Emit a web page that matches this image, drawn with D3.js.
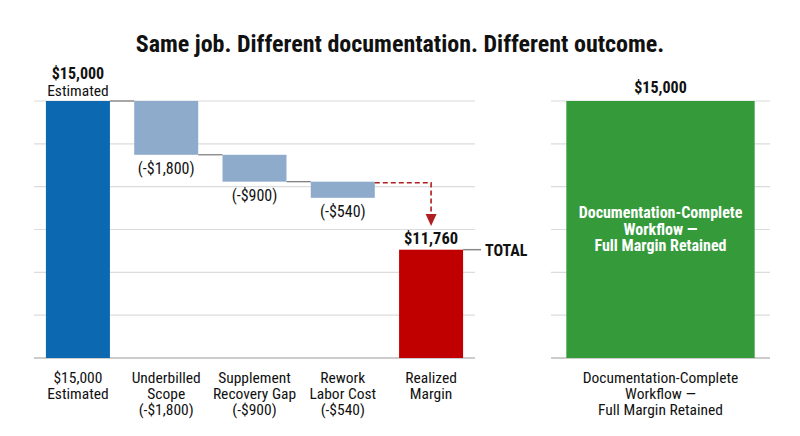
<!DOCTYPE html>
<html>
<head>
<meta charset="utf-8">
<script src="https://cdnjs.cloudflare.com/ajax/libs/d3/7.8.5/d3.min.js"></script>
<style>
  body { margin: 0; background: #fff; }
  text { font-family: "Roboto Condensed", "Liberation Sans Narrow", Roboto, sans-serif; fill: #111; }
</style>
</head>
<body>
<svg id="chart" width="800" height="436"></svg>
<script>
// data
var categories = [
  ["$15,000", "Estimated"],
  ["Underbilled", "Scope", "(-$1,800)"],
  ["Supplement", "Recovery Gap", "(-$900)"],
  ["Rework", "Labor Cost", "(-$540)"],
  ["Realized", "Margin"]
];
var startValue = 15000;
var deltas = [-1800, -900, -540];
var deltaLabels = ["(-$1,800)", "(-$900)", "(-$540)"];
var totalValue = 11760;
var compareValue = 15000;
var compareLabel = ["Documentation-Complete", "Workflow \u2014", "Full Margin Retained"];

var svg = d3.select("#chart");
var top0 = 101, base = 358;
var fs = "15.5px";

// scales
var x = d3.scaleBand().domain(d3.range(categories.length))
    .range([34, 475]).paddingInner(0.275).paddingOuter(0.135);
var x2 = d3.scaleBand().domain([0]).range([551, 770]).paddingInner(0.14).paddingOuter(0.07);
var yStep = d3.scaleLinear().domain([6400, 15000]).range([base, top0]);
var yLevel = d3.scaleLinear().domain([9400, 15000]).range([base, top0]);
var grid = d3.scaleLinear().domain([0, 6]).range([base, top0]);

svg.append("text").attr("x", 400).attr("y", 52).attr("text-anchor", "middle")
  .style("font-size", "24px").style("font-weight", "bold")
  .text("Same job. Different documentation. Different outcome.");

// gridlines
[[34, 475], [551, 770]].forEach(function(r) {
  svg.append("g").selectAll("line").data(d3.range(7)).enter().append("line")
    .attr("x1", r[0]).attr("x2", r[1])
    .attr("y1", d => grid(d)).attr("y2", d => grid(d))
    .attr("stroke", d => d == 0 ? "#bbb" : "#dcdcdc").attr("stroke-width", d => d == 0 ? 1.5 : 1.2);
});

var bw = x.bandwidth();

// estimated bar
svg.append("rect").attr("x", x(0)).attr("y", yLevel(startValue)).attr("width", bw)
  .attr("height", base - yLevel(startValue)).attr("fill", "#0b68b1");
svg.append("text").attr("x", x(0) + bw / 2).attr("y", 79).attr("text-anchor", "middle")
  .style("font-size", "16px").style("font-weight", "bold").text("$15,000");
svg.append("text").attr("x", x(0) + bw / 2).attr("y", 96).attr("text-anchor", "middle")
  .style("font-size", fs).text("Estimated");

// steps
var cum = startValue;
var steps = deltas.map(function(d, i) {
  var s = { i: i + 1, from: cum, to: cum + d, label: deltaLabels[i] };
  cum += d;
  return s;
});

steps.forEach(function(s) {
  // connector from previous bar
  svg.append("line").attr("x1", x(s.i - 1) + bw).attr("x2", x(s.i))
    .attr("y1", yStep(s.from)).attr("y2", yStep(s.from))
    .attr("stroke", "#777").attr("stroke-width", 1.2);
});

svg.append("g").selectAll("rect").data(steps).enter().append("rect")
  .attr("x", d => x(d.i)).attr("y", d => yStep(d.from)).attr("width", bw)
  .attr("height", d => yStep(d.to) - yStep(d.from)).attr("fill", "#8eabcb");

svg.append("g").selectAll("text").data(steps).enter().append("text")
  .attr("x", d => x(d.i) + bw / 2).attr("y", d => yStep(d.to) + 19)
  .attr("text-anchor", "middle").style("font-size", "16px").text(d => d.label);

// dashed arrow to total
var last = steps[steps.length - 1];
var ax = x(4) + bw / 2;
var ay = yStep(last.from) + 1;
svg.append("path")
  .attr("d", "M" + (x(3) + bw) + "," + ay + "H" + ax + "V" + 216)
  .attr("fill", "none").attr("stroke", "#b01f1f").attr("stroke-width", 1.6)
  .attr("stroke-dasharray", "5,3");
svg.append("path")
  .attr("d", "M" + (ax - 5.5) + ",214L" + (ax + 5.5) + ",214L" + ax + ",226Z")
  .attr("fill", "#b01f1f");

// total bar
svg.append("rect").attr("x", x(4)).attr("y", yLevel(totalValue)).attr("width", bw)
  .attr("height", base - yLevel(totalValue)).attr("fill", "#c00000");
svg.append("text").attr("x", x(4) + bw / 2).attr("y", yLevel(totalValue) - 6)
  .attr("text-anchor", "middle").style("font-size", "16.5px").style("font-weight", "bold")
  .text("$11,760");
svg.append("line").attr("x1", x(4) + bw).attr("x2", 481)
  .attr("y1", yLevel(totalValue)).attr("y2", yLevel(totalValue))
  .attr("stroke", "#888").attr("stroke-width", 1.5);
svg.append("text").attr("x", 485).attr("y", yLevel(totalValue) + 6)
  .style("font-size", "16px").style("font-weight", "bold").text("TOTAL");

// category labels
categories.forEach(function(lines, i) {
  var t = svg.append("text").attr("x", x(i) + bw / 2).attr("y", 383)
    .attr("text-anchor", "middle").style("font-size", fs);
  lines.forEach(function(l, k) {
    t.append("tspan").attr("x", x(i) + bw / 2).attr("dy", k == 0 ? 0 : 16).text(l);
  });
});

// comparison bar
var gx = x2(0), gw = x2.bandwidth(), gc = gx + gw / 2;
svg.append("rect").attr("x", gx).attr("y", yLevel(compareValue)).attr("width", gw)
  .attr("height", base - yLevel(compareValue)).attr("fill", "#349a3a");
svg.append("text").attr("x", gc).attr("y", yLevel(compareValue) - 8)
  .attr("text-anchor", "middle").style("font-size", "16px").style("font-weight", "bold")
  .text("$15,000");
var inner = svg.append("text").attr("x", gc).attr("y", 218)
  .attr("text-anchor", "middle").style("font-size", "16px").style("font-weight", "bold");
compareLabel.forEach(function(l, k) {
  inner.append("tspan").attr("x", gc).attr("dy", k == 0 ? 0 : 16.5).style("fill", "#fff").text(l);
});
var under = svg.append("text").attr("x", gc).attr("y", 383)
  .attr("text-anchor", "middle").style("font-size", fs);
compareLabel.forEach(function(l, k) {
  under.append("tspan").attr("x", gc).attr("dy", k == 0 ? 0 : 16).text(l);
});
</script>
</body>
</html>
